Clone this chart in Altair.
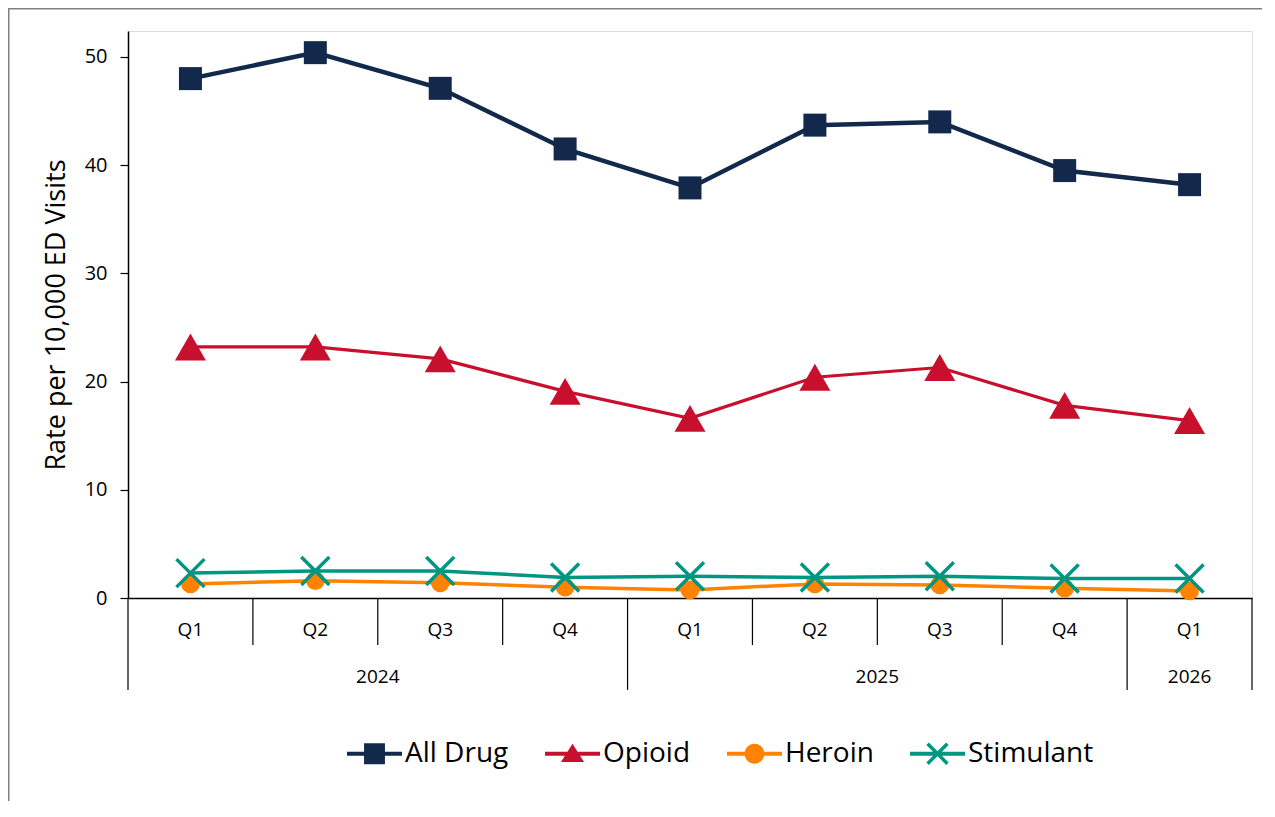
import altair as alt
import pandas as pd

# ---- data ----
quarters = ["Q1", "Q2", "Q3", "Q4", "Q1", "Q2", "Q3", "Q4", "Q1"]
years = ["2024", "2024", "2024", "2024", "2025", "2025", "2025", "2025", "2026"]
all_drug = [48.0, 50.4, 47.1, 41.5, 37.9, 43.7, 44.0, 39.5, 38.2]
opioid = [23.2, 23.2, 22.1, 19.1, 16.6, 20.4, 21.3, 17.8, 16.4]
heroin = [1.3, 1.6, 1.4, 1.0, 0.75, 1.3, 1.2, 0.9, 0.65]
stimulant = [2.3, 2.5, 2.5, 1.9, 2.0, 1.9, 2.0, 1.8, 1.8]
series_names = ["All Drug", "Opioid", "Heroin", "Stimulant"]
series_values = [all_drug, opioid, heroin, stimulant]
colors = ["#13294b", "#c8102e", "#ff8200", "#009681"]
y_ticks = [0, 10, 20, 30, 40, 50]

# ---- layout ----
W, H = 1124, 567
FONT = "Open Sans"

rows = []
for name, vals in zip(series_names, series_values):
    for i, v in enumerate(vals):
        rows.append({"series": name, "idx": i, "value": v,
                     "quarter": quarters[i], "year": years[i]})
df = pd.DataFrame(rows)

n = len(quarters)
bounds = []
for i in range(n + 1):
    is_year = i == 0 or i == n or years[i] != years[i - 1]
    bounds.append({"b": i - 0.5, "kind": "year" if is_year else "quarter"})
bdf = pd.DataFrame(bounds)

qdf = pd.DataFrame({"idx": list(range(n)), "label": quarters})
ydf = qdf.assign(year=years).groupby("year", as_index=False)["idx"].mean()

xscale = alt.Scale(domain=[-0.5, n - 0.5], nice=False, zero=False)
xaxis = alt.Axis(labels=False, ticks=False, title=None, grid=False,
                 domainColor="black", domainWidth=1.5)
yscale = alt.Scale(domain=[0, 52.4], nice=False)
yaxis = alt.Axis(values=y_ticks, title="Rate per 10,000 ED Visits",
                 titleFontSize=27, titleFontWeight="normal", titleColor="black",
                 titleFont=FONT, titlePadding=14,
                 labelFontSize=20, labelColor="black", labelFont=FONT,
                 labelPadding=13, tickSize=8, tickColor="black", tickWidth=1.2,
                 domainColor="black", domainWidth=1.5, grid=False)


def X(field):
    return alt.X(f"{field}:Q", scale=xscale, axis=xaxis)


Y = alt.Y("value:Q", scale=yscale, axis=yaxis)

layers = []

# frame (left and top edges of the chart area)
one = pd.DataFrame({"a": [0]})
layers.append(alt.Chart(one).mark_rule(color="#808080", strokeWidth=1.5).encode(
    x=alt.value(-119.25), y=alt.value(-23), y2=alt.value(H + 300)))
layers.append(alt.Chart(one).mark_rule(color="#808080", strokeWidth=1.5).encode(
    x=alt.value(-120), x2=alt.value(W + 100), y=alt.value(-22.25)))

line_widths = [4.5, 3.2, 3.5, 3.5]
for name, col, lw in zip(series_names, colors, line_widths):
    layers.append(
        alt.Chart(df).transform_filter(alt.datum.series == name)
        .mark_line(color=col, strokeWidth=lw)
        .encode(x=X("idx"), y=Y)
    )
    if name == "All Drug":
        pm = alt.Chart(df).mark_point(shape="square", size=529, filled=True,
                                      color=col, opacity=1)
    elif name == "Opioid":
        pm = alt.Chart(df).mark_point(shape="triangle-up", size=961, filled=True,
                                      color=col, opacity=1)
    elif name == "Heroin":
        pm = alt.Chart(df).mark_point(shape="circle", size=346, filled=True,
                                      color=col, opacity=1)
    else:
        pm = alt.Chart(df).mark_point(shape="M-1,-1L1,1M-1,1L1,-1", size=784,
                                      filled=False, color=col, strokeWidth=3.5,
                                      opacity=1)
    layers.append(pm.transform_filter(alt.datum.series == name)
                  .encode(x=X("idx"), y=Y))

# category axis dividers and labels
layers.append(
    alt.Chart(bdf).transform_filter(alt.datum.kind == "quarter")
    .mark_rule(color="black", strokeWidth=1.2)
    .encode(x=X("b"), y=alt.value(H), y2=alt.value(H + 47))
)
layers.append(
    alt.Chart(bdf).transform_filter(alt.datum.kind == "year")
    .mark_rule(color="black", strokeWidth=1.2)
    .encode(x=X("b"), y=alt.value(H), y2=alt.value(H + 92))
)
layers.append(
    alt.Chart(qdf).mark_text(fontSize=19, font=FONT, color="black", baseline="middle")
    .encode(x=X("idx"), y=alt.value(H + 32), text="label:N")
)
layers.append(
    alt.Chart(ydf).mark_text(fontSize=19, font=FONT, color="black", baseline="middle")
    .encode(x=X("idx"), y=alt.value(H + 79), text="year:N")
)

# legend (invisible points, symbols drawn as line + marker paths)
t = 0.07
line_p = f"M-1,{-t}H1V{t}H-1Z"
sq = 0.38
sq_p = f"M{-sq},{-sq}H{sq}V{sq}H{-sq}Z"
tri_p = "M0,-0.36L0.42,0.3L-0.42,0.3Z"
r = 0.36
circ_p = f"M{r},0A{r},{r} 0 1 1 {-r},0A{r},{r} 0 1 1 {r},0Z"
a, d = 0.36, 0.045
x1 = f"M{-a+d},{-a-d}L{a+d},{a-d}L{a-d},{a+d}L{-a-d},{-a+d}Z"
x2 = f"M{-a+d},{a+d}L{-a-d},{a-d}L{a-d},{-a-d}L{a+d},{-a+d}Z"
legend_paths = [line_p + sq_p, line_p + tri_p, line_p + circ_p, line_p + x1 + x2]

leg = alt.Legend(title=None, orient="none", legendX=219, legendY=695,
                 direction="horizontal", symbolSize=3025, symbolStrokeWidth=0,
                 symbolOpacity=1, labelFontSize=28, labelFont=FONT,
                 labelColor="black", labelOffset=3, columnPadding=36,
                 labelLimit=0, padding=0)
layers.append(
    alt.Chart(df).mark_point(filled=True, opacity=0).encode(
        x=X("idx"), y=Y,
        color=alt.Color("series:N", scale=alt.Scale(domain=series_names, range=colors),
                        legend=leg),
        shape=alt.Shape("series:N", scale=alt.Scale(domain=series_names, range=legend_paths),
                        legend=leg),
    )
)

chart = alt.layer(*layers).properties(
    width=W, height=H,
    autosize=alt.AutoSizeParams(type="none"),
    padding={"left": 120, "top": 23, "right": 10, "bottom": 203},
    background="white",
).configure_view(stroke=None).configure(font=FONT)

chart.save("out.html", embed_options={"renderer": "svg", "actions": False})
